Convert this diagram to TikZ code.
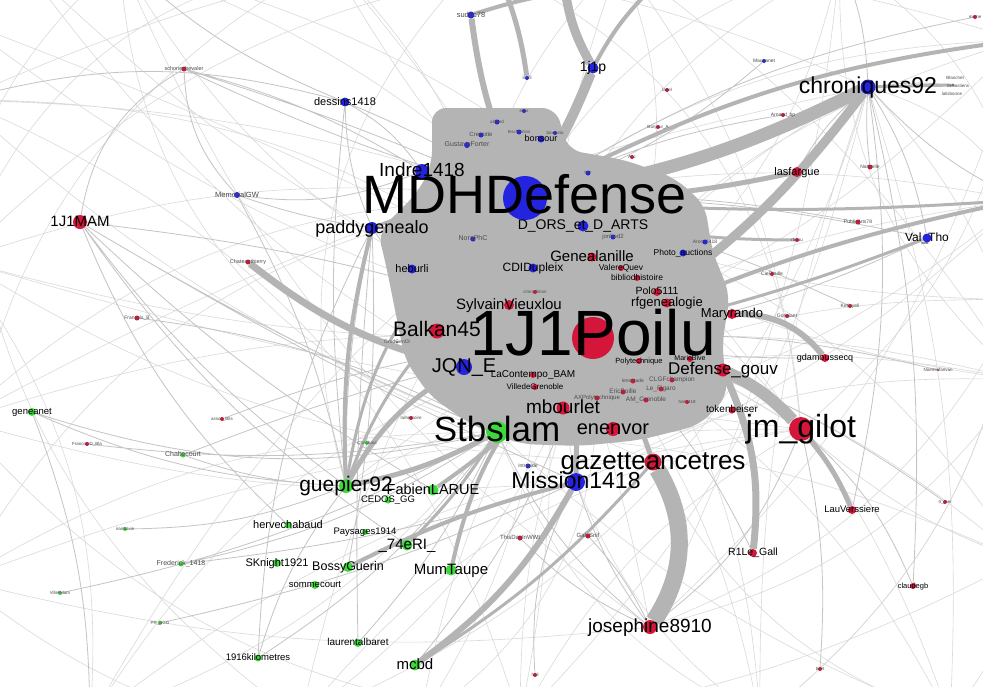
\documentclass[tikz,border=0pt]{standalone}
\usepackage{fontspec}
\setmainfont{Liberation Sans}
\definecolor{nodered}{HTML}{D4163A}
\definecolor{nodeblue}{HTML}{2424E0}
\definecolor{nodegreen}{HTML}{3CD83C}
\definecolor{bandgray}{HTML}{B4B4B4}
\definecolor{edgegray}{HTML}{C4C4C4}
\definecolor{faintgray}{HTML}{DADADA}
\pgfdeclarelayer{back}
\pgfdeclarelayer{mid}
\pgfsetlayers{back,mid,main}
\tikzset{
  reddot/.style={circle,fill=nodered,inner sep=0pt,minimum size=#1},
  bluedot/.style={circle,fill=nodeblue,inner sep=0pt,minimum size=#1},
  greendot/.style={circle,fill=nodegreen,inner sep=0pt,minimum size=#1},
  greydot/.style={circle,fill=gray,inner sep=0pt,minimum size=#1},
  lbl/.style={inner sep=0pt,anchor=base,yshift={-0.28*#1},text=black,font=\fontsize{#1}{#1}\selectfont},
  tiny/.style={inner sep=0pt,anchor=base,yshift={-0.28*#1},text=black!70,font=\fontsize{#1}{#1}\selectfont},
  band/.style={draw=bandgray,line width=#1},
  link/.style={draw=edgegray,line width=0.8pt},
  faint/.style={draw=faintgray,line width=0.6pt},
}
\begin{document}
\begin{tikzpicture}[x=1pt,y=-1pt]
\useasboundingbox (0,0) rectangle (983,686);

% MDHDefense
\node[bluedot=44] (mdh) at (525,198) {};
\node[lbl=54] (mdh-t) at (mdh) {MDHDefense};
% 1J1Poilu
\node[reddot=42] (poilu) at (593,338) {};
\node[lbl=64] (poilu-t) at (poilu) {1J1Poilu};
% chroniques92
\node[bluedot=15] (chron) at (868,87) {};
\node[lbl=23] (chron-t) at (chron) {chroniques92};
% Stbslam
\node[greendot=22] (stb) at (497,432) {};
\node[lbl=35] (stb-t) at (stb) {Stbslam};
% jm_gilot
\node[reddot=24] (gilot) at (801,429) {};
\node[lbl=32] (gilot-t) at (gilot) {jm\_gilot};
% gazetteancetres
\node[reddot=17] (gazette) at (653,462) {};
\node[lbl=26] (gazette-t) at (gazette) {gazetteancetres};
% Mission1418
\node[bluedot=18] (mission) at (576,482) {};
\node[lbl=23] (mission-t) at (mission) {Mission1418};
% guepier92
\node[greendot=14] (guepier) at (346,486) {};
\node[lbl=21] (guepier-t) at (guepier) {guepier92};
% josephine8910
\node[reddot=14] (josephine) at (650,627) {};
\node[lbl=19] (josephine-t) at (josephine) {josephine8910};

% ring around the hubs
\node[reddot=15] (balkan) at (437,331) {};
\node[lbl=21] (balkan-t) at (balkan) {Balkan45};
\node[bluedot=16] (jqn) at (464,367) {};
\node[lbl=20] (jqn-t) at (jqn) {JQN\_E};
\node[bluedot=12] (paddy) at (372,228) {};
\node[lbl=18] (paddy-t) at (paddy) {paddygenealo};
\node[bluedot=14] (indre) at (422,171) {};
\node[lbl=19] (indre-t) at (indre) {Indre1418};
\node[reddot=14] (mam) at (80,222) {};
\node[lbl=15] (mam-t) at (mam) {1J1MAM};
\node[bluedot=9] (dessins) at (345,102) {};
\node[lbl=11] (dessins-t) at (dessins) {dessins1418};
\node[bluedot=11] (onejp) at (593,68) {};
\node[lbl=14] (onejp-t) at (onejp) {1j1p};
\node[reddot=13] (mbourlet) at (563,408) {};
\node[lbl=19] (mbourlet-t) at (mbourlet) {mbourlet};
\node[reddot=14] (enenvor) at (613,429) {};
\node[lbl=20] (enenvor-t) at (enenvor) {enenvor};
\node[reddot=13] (defgouv) at (723,370) {};
\node[lbl=17] (defgouv-t) at (defgouv) {Defense\_gouv};
\node[reddot=10] (maryrando) at (732,314) {};
\node[lbl=13] (maryrando-t) at (maryrando) {Maryrando};
\node[reddot=9] (rfgen) at (667,303) {};
\node[lbl=13] (rfgen-t) at (rfgen) {rfgenealogie};
\node[reddot=9] (genealanille) at (592,257) {};
\node[lbl=15] (genealanille-t) at (genealanille) {Genealanille};
\node[reddot=10] (sylvain) at (509,305) {};
\node[lbl=15] (sylvain-t) at (sylvain) {SylvainVieuxlou};
\node[bluedot=11] (dorsarts) at (583,226) {};
\node[lbl=14] (dorsarts-t) at (dorsarts) {D\_ORS\_et\_D\_ARTS};
\node[bluedot=9] (cdid) at (533,268) {};
\node[lbl=12] (cdid-t) at (cdid) {CDIDupleix};
\node[bluedot=9] (heburli) at (412,269) {};
\node[lbl=11] (heburli-t) at (heburli) {heburli};
\node[bluedot=9] (valtho) at (927,238) {};
\node[lbl=12] (valtho-t) at (valtho) {Val\_Tho};
\node[reddot=10] (lasfargue) at (797,172) {};
\node[lbl=11] (lasfargue-t) at (lasfargue) {lasfargue};
\node[reddot=8] (polo) at (657,292) {};
\node[lbl=10.5] (polo-t) at (polo) {Polo5111};
\node[reddot=7] (tokenb) at (732,410) {};
\node[lbl=10] (tokenb-t) at (tokenb) {tokenbeiser};
\node[reddot=8] (gdam) at (825,358) {};
\node[lbl=9] (gdam-t) at (gdam) {gdamoussecq};
\node[reddot=8] (r1legall) at (753,553) {};
\node[lbl=10.5] (r1legall-t) at (r1legall) {R1Le\_Gall};
\node[reddot=8] (lauv) at (852,510) {};
\node[lbl=9.5] (lauv-t) at (lauv) {LauVerssiere};
\node[reddot=6] (claude) at (913,586) {};
\node[lbl=7.5] (claude-t) at (claude) {claudegb};

% green group, lower left
\node[greendot=11] (fabien) at (433,490) {};
\node[lbl=14.5] (fabien-t) at (fabien) {FabienLARUE};
\node[greendot=7] (cedos) at (388,500) {};
\node[lbl=9.5] (cedos-t) at (cedos) {CEDOS\_GG};
\node[greendot=7] (herve) at (288,525) {};
\node[lbl=11] (herve-t) at (herve) {hervechabaud};
\node[greendot=6] (paysages) at (365,532) {};
\node[lbl=9.5] (paysages-t) at (paysages) {Paysages1914};
\node[greendot=11] (e74) at (407,545) {};
\node[lbl=15] (e74-t) at (e74) {\_74eRI\_};
\node[greendot=8] (sknight) at (277,563) {};
\node[lbl=11] (sknight-t) at (sknight) {SKnight1921};
\node[greendot=10] (bossy) at (348,567) {};
\node[lbl=12.5] (bossy-t) at (bossy) {BossyGuerin};
\node[greendot=11] (mumtaupe) at (451,570) {};
\node[lbl=15] (mumtaupe-t) at (mumtaupe) {MumTaupe};
\node[greendot=8] (somme) at (315,585) {};
\node[lbl=9.5] (somme-t) at (somme) {sommecourt};
\node[greendot=8] (laurent) at (358,643) {};
\node[lbl=10] (laurent-t) at (laurent) {laurentalbaret};
\node[greendot=11] (mcbd) at (415,665) {};
\node[lbl=15] (mcbd-t) at (mcbd) {mcbd};
\node[greendot=7] (kilometres) at (258,658) {};
\node[lbl=9.5] (kilometres-t) at (kilometres) {1916kilometres};
\node[greendot=8] (geneanet) at (32,412) {};
\node[lbl=9.5] (geneanet-t) at (geneanet) {geneanet};
\node[greendot=5] (chaltecourt) at (183,455) {};
\node[tiny=7] (chaltecourt-t) at (chaltecourt) {Chaltecourt};
\node[greendot=5] (frederick) at (181,564) {};
\node[tiny=7] (frederick-t) at (frederick) {Frederick\_1418};
\node[greendot=4] (gA) at (125,529) {};
\node[tiny=4.5] (gA-t) at (gA) {nanbzvie};
\node[greendot=4] (gB) at (60,593) {};
\node[tiny=4.5] (gB-t) at (gB) {VilleRdam};
\node[greendot=4] (gC) at (160,623) {};
\node[tiny=4.5] (gC-t) at (gC) {PR\_BGG};
\node[greendot=4] (gD) at (367,443) {};
\node[tiny=4.5] (gD-t) at (gD) {Chrisboul};

% small ones, left and top
\node[bluedot=6] (memorial) at (237,195) {};
\node[tiny=7.5] (memorial-t) at (memorial) {MemorialGW};
\node[reddot=5] (schon) at (184,69) {};
\node[tiny=5.5] (schon-t) at (schon) {schonenbevaler};
\node[reddot=5] (chateau) at (248,262) {};
\node[tiny=5.5] (chateau-t) at (chateau) {Chateauthierry};
\node[reddot=5] (francois) at (137,318) {};
\node[tiny=5] (francois-t) at (francois) {Francois\_B};
\node[reddot=4] (rA) at (222,419) {};
\node[tiny=4.5] (rA-t) at (rA) {assoc\_Bits};
\node[reddot=4] (rB) at (87,444) {};
\node[tiny=4.5] (rB-t) at (rB) {FrancineD\_Bla};
\node[reddot=4] (rC) at (411,418) {};
\node[tiny=4.5] (rC-t) at (rC) {lamemoire};
\node[greydot=3] (grud) at (397,342) {};
\node[tiny=5] (grud-t) at (grud) {GrudGenOl};
\node[bluedot=7] (sudoc) at (471,15) {};
\node[tiny=7.5] (sudoc-t) at (sudoc) {sudoc78};
\node[bluedot=6] (gustave) at (467,145) {};
\node[tiny=7] (gustave-t) at (gustave) {GustaveForter};
\node[bluedot=5] (cre) at (481,135) {};
\node[tiny=6] (cre-t) at (cre) {Crenotte};
\node[bluedot=7] (bonsour) at (541,139) {};
\node[lbl=9] (bonsour-t) at (bonsour) {bonsour};
\node[bluedot=5] (ldbed) at (497,122) {};
\node[tiny=4.5] (ldbed-t) at (ldbed) {aldbed};
\node[bluedot=5] (lesch) at (519,132) {};
\node[tiny=4.5] (lesch-t) at (lesch) {leschemins};
\node[bluedot=4] (boxc) at (555,133) {};
\node[tiny=4.5] (boxc-t) at (boxc) {boxcurio};
\node[bluedot=4] (bA) at (527,78) {};
\node[tiny=4.5] (bA-t) at (bA) {lesfil};
\node[bluedot=4] (bB) at (524,111) {};
\node[tiny=4.5] (bB-t) at (bB) {edur};
\node[bluedot=5] (bC) at (588,173) {};
\node[tiny=3.5] (bC-t) at (bC) {lgen};
\node[reddot=4] (rD) at (667,90) {};
\node[tiny=4.5] (rD-t) at (rD) {lapel};
\node[reddot=4] (rE) at (658,127) {};
\node[tiny=4.5] (rE-t) at (rE) {Bonjour\_A};
\node[reddot=4] (rF) at (632,157) {};
\node[tiny=4.5] (rF-t) at (rF) {Anc};
\node[bluedot=5] (nora) at (473,239) {};
\node[tiny=7] (nora-t) at (nora) {NoraPhC};

% small ones inside the grey mass
\node[bluedot=5] (jonhed) at (613,237) {};
\node[tiny=6] (jonhed-t) at (jonhed) {jonhed2};
\node[bluedot=5] (aron) at (705,242) {};
\node[tiny=5] (aron-t) at (aron) {Aron\_1418};
\node[bluedot=7] (photo) at (683,253) {};
\node[lbl=8.5] (photo-t) at (photo) {Photo\_auctions};
\node[reddot=6] (valere) at (621,268) {};
\node[lbl=8.5] (valere-t) at (valere) {ValereQuev};
\node[reddot=6] (biblio) at (637,278) {};
\node[lbl=8.5] (biblio-t) at (biblio) {bibliodhistoire};
\node[reddot=4] (rG) at (535,292) {};
\node[tiny=4.5] (rG-t) at (rG) {cimrodimon};
\node[reddot=6] (lacontempo) at (533,375) {};
\node[lbl=10] (lacontempo-t) at (lacontempo) {LaContempo\_BAM};
\node[reddot=6] (villede) at (535,387) {};
\node[lbl=8] (villede-t) at (villede) {VilledeGrenoble};
\node[reddot=6] (polytech) at (639,361) {};
\node[lbl=7.5] (polytech-t) at (polytech) {Polytechnique};
\node[reddot=6] (marieb) at (690,359) {};
\node[lbl=7] (marieb-t) at (marieb) {MarieBive};
\node[reddot=5] (clgf) at (672,380) {};
\node[tiny=6.5] (clgf-t) at (clgf) {CLGFchampion};
\node[reddot=5] (lebig) at (661,389) {};
\node[tiny=6.5] (lebig-t) at (lebig) {Le\_Figaro};
\node[reddot=5] (rH) at (633,381) {};
\node[tiny=5] (rH-t) at (rH) {lenomade};
\node[reddot=5] (ericb) at (623,392) {};
\node[tiny=6.5] (ericb-t) at (ericb) {EricBoille};
\node[reddot=5] (axpoly) at (597,398) {};
\node[tiny=6] (axpoly-t) at (axpoly) {AXPolytechnique};
\node[reddot=5] (amgren) at (646,400) {};
\node[tiny=6.5] (amgren-t) at (amgren) {AM\_Grenoble};
\node[reddot=4] (rI) at (687,402) {};
\node[tiny=4.5] (rI-t) at (rI) {hist1418};

% small ones, lower middle and right
\node[bluedot=5] (bD) at (528,466) {};
\node[tiny=5] (bD-t) at (bD) {Intrepide};
\node[reddot=5] (thisday) at (520,538) {};
\node[tiny=6] (thisday-t) at (thisday) {ThisDayInWWI};
\node[reddot=5] (dalsnif) at (588,536) {};
\node[tiny=6] (dalsnif-t) at (dalsnif) {GalsSnif};
\node[reddot=4] (rJ) at (535,675) {};
\node[tiny=4.5] (rJ-t) at (rJ) {hall};
\node[reddot=4] (rK) at (787,316) {};
\node[tiny=5] (rK-t) at (rK) {Gorigiant};
\node[reddot=4] (rL) at (772,274) {};
\node[tiny=5] (rL-t) at (rL) {CieRoulle};
\node[reddot=4] (rM) at (850,306) {};
\node[tiny=5] (rM-t) at (rM) {Ketivyeli};
\node[reddot=4] (rN) at (797,240) {};
\node[tiny=4.5] (rN-t) at (rN) {rbeau};
\node[reddot=2] (rO) at (938,370) {};
\node[tiny=4.5] (rO-t) at (rO) {Noemiefarivan};
\node[reddot=4] (rP) at (783,115) {};
\node[tiny=5] (rP-t) at (rP) {Arnaud\_bp};
\node[reddot=5] (rQ) at (870,167) {};
\node[tiny=5] (rQ-t) at (rQ) {Nasbelle};
\node[reddot=5] (rR) at (858,222) {};
\node[tiny=5] (rR-t) at (rR) {PublicArts78};
\node[bluedot=4] (bE) at (764,61) {};
\node[tiny=5] (bE-t) at (bE) {Mauvanet};
\node[reddot=4] (rS) at (975,17) {};
\node[tiny=4.5] (rS-t) at (rS) {meme};
\node[reddot=4] (rT) at (945,502) {};
\node[tiny=4.5] (rT-t) at (rT) {tr\_mer};
\node[reddot=4] (rU) at (820,669) {};
\node[tiny=4.5] (rU-t) at (rU) {bcet};
\node[greydot=3] (clus) at (953,85) {};
\node[tiny=4.5] (clus-a) at (955,78) {Blanchet};
\node[tiny=4.5] (clus-b) at (958,86) {Sebastiens};
\node[tiny=4.5] (clus-c) at (952,94) {lalisbonne};

% ends of the long arcs, outside the frame
\coordinate (w1) at (-40,100);
\coordinate (w2) at (-40,260);
\coordinate (w3) at (-40,420);
\coordinate (w4) at (-40,580);
\coordinate (w5) at (-40,20);
\coordinate (n1) at (120,-40);
\coordinate (n2) at (330,-40);
\coordinate (n3) at (620,-40);
\coordinate (n4) at (840,-40);
\coordinate (n5) at (20,-40);
\coordinate (n6) at (480,-40);
\coordinate (e1) at (1020,40);
\coordinate (e2) at (1020,200);
\coordinate (e3) at (1020,380);
\coordinate (e4) at (1020,560);
\coordinate (e5) at (1020,300);
\coordinate (s1) at (90,720);
\coordinate (s2) at (300,720);
\coordinate (s3) at (520,720);
\coordinate (s4) at (760,720);
\coordinate (s5) at (950,720);
\coordinate (s6) at (420,720);
\coordinate (topA) at (565,-10);
\coordinate (topB) at (505,-10);
\coordinate (topC) at (650,-10);

\begin{pgfonlayer}{back}
\fill[white] (0,0) rectangle (983,686);
\clip (0,0) rectangle (983,686);
% faint arcs across the whole picture
\draw[faint] (w1) to[bend left=20] (poilu) (w1) to[bend right=10] (stb) (w1) to[bend left=8] (mdh) (w1) to[bend right=25] (s2)
  (w2) to[bend left=12] (mdh) (w2) to[bend right=8] (poilu) (w2) to[bend right=15] (gazette) (w2) to[bend left=30] (n2)
  (w3) to[bend left=10] (poilu) (w3) to[bend right=10] (mission) (w3) to[bend left=20] (mdh) (w3) to[bend right=20] (s3)
  (w4) to[bend left=15] (stb) (w4) to[bend left=25] (mdh) (w4) to[bend right=10] (josephine)
  (n1) to[bend right=20] (poilu) (n1) to[bend right=35] (stb) (n1) to[bend left=10] (mdh) (n1) to[bend right=30] (w3)
  (n2) to[bend right=15] (gilot) (n2) to[bend left=25] (stb) (n2) to[bend left=10] (chron)
  (n3) to[bend left=25] (poilu) (n3) to[bend right=30] (stb) (n3) to[bend left=15] (gilot) (n3) to[bend right=20] (w2)
  (n4) to[bend right=20] (mdh) (n4) to[bend left=20] (poilu) (n4) to[bend left=10] (josephine) (n4) to[bend right=15] (w1)
  (e1) to[bend right=15] (mdh) (e1) to[bend left=10] (poilu) (e1) to[bend left=20] (gilot) (e1) to[bend right=10] (n2)
  (e2) to[bend right=10] (mdh) (e2) to[bend left=15] (stb) (e2) to[bend right=20] (chron) (e2) to[bend left=25] (s4)
  (e3) to[bend right=8] (poilu) (e3) to[bend left=12] (mdh) (e3) to[bend right=15] (mission) (e3) to[bend left=20] (josephine)
  (e4) to[bend right=12] (poilu) (e4) to[bend left=10] (gilot) (e4) to[bend right=20] (mdh) (e4) to[bend left=15] (s2)
  (s1) to[bend left=20] (poilu) (s1) to[bend right=15] (stb) (s1) to[bend left=10] (mdh)
  (s2) to[bend right=15] (poilu) (s2) to[bend left=20] (gilot) (s2) to[bend right=25] (chron)
  (s3) to[bend right=10] (mdh) (s3) to[bend left=15] (gilot) (s3) to[bend right=25] (w1)
  (s4) to[bend right=12] (poilu) (s4) to[bend left=20] (stb) (s4) to[bend right=20] (mdh) (s4) to[bend left=10] (chron)
  (s5) to[bend right=15] (poilu) (s5) to[bend right=20] (mdh) (s5) to[bend left=20] (gazette) (s5) to[bend right=30] (e1);
\draw[faint] (w2) to[bend right=5] (gilot) (w3) to[bend left=8] (chron) (w4) to[bend left=10] (gilot) (w4) to[bend right=25] (s3)
  (n1) to[bend left=20] (gilot) (n1) to[bend right=15] (josephine) (n2) to[bend right=30] (w4) (n2) to[bend left=15] (josephine)
  (n3) to[bend left=10] (e3) (n3) to[bend right=15] (mission) (n4) to[bend right=25] (stb) (n4) to[bend left=20] (e2)
  (e1) to[bend right=20] (stb) (e1) to[bend left=15] (josephine) (e2) to[bend right=15] (guepier) (e2) to[bend left=10] (mission)
  (e3) to[bend right=20] (guepier) (e3) to[bend left=25] (n4) (e4) to[bend right=10] (stb) (e4) to[bend right=25] (chron)
  (s1) to[bend left=15] (gilot) (s1) to[bend right=20] (w2) (s2) to[bend left=10] (mdh) (s3) to[bend right=15] (chron)
  (s3) to[bend left=10] (poilu) (s4) to[bend left=15] (mission) (s4) to[bend right=25] (e2) (s5) to[bend left=10] (stb)
  (s5) to[bend right=10] (chron) (w5) to[bend right=10] (poilu) (w5) to[bend left=5] (gilot) (n5) to[bend right=15] (gazette)
  (n5) to[bend right=10] (poilu) (n6) to[bend left=30] (gilot) (n6) to[bend right=30] (guepier) (e5) to[bend right=15] (stb)
  (e5) to[bend left=10] (mdh) (e5) to[bend left=20] (josephine) (s6) to[bend right=20] (mdh) (s6) to[bend left=25] (chron)
  (s6) to[bend right=30] (poilu);
% links of the small nodes
\draw[link] (mam) to[bend right=8] (guepier) (mam) to[bend right=4] (stb) (mam) to[bend right=6] (fabien)
  (mam) to[bend right=10] (e74) (mam) to[bend right=12] (herve) (mam) to[bend right=3] (mission)
  (mam) to[bend left=25] (schon) (mam) to[bend left=6] (poilu) (francois) to[bend left=10] (stb)
  (schon) to[bend left=3] (mdh) (schon) to[bend left=8] (indre) (schon) to[bend right=4] (mdh) (schon) to[bend right=20] (memorial)
  (memorial) to[bend right=5] (paddy) (memorial) to[bend left=8] (guepier) (memorial) to[bend right=15] (indre)
  (dessins) to[bend left=5] (mdh) (dessins) to[bend left=12] (indre) (dessins) to[bend right=10] (paddy)
  (dessins) to[bend right=6] (guepier) (w1) to[bend left=15] (dessins) (n1) to[bend right=10] (dessins)
  (paddy) to[bend right=6] (guepier) (paddy) to[bend left=6] (bossy) (paddy) to[bend right=12] (kilometres)
  (paddy) to[bend left=4] (stb) (paddy) to[bend right=3] (laurent)
  (geneanet) to[bend right=10] (guepier) (geneanet) to[bend right=15] (stb) (geneanet) to[bend left=10] (s1)
  (chaltecourt) to[bend right=8] (guepier) (chaltecourt) to[bend left=5] (poilu) (rB) to[bend right=8] (stb)
  (rA) to[bend left=8] (poilu) (gA) to[bend right=10] (guepier) (gB) to[bend right=8] (stb) (gC) to[bend right=6] (mission)
  (frederick) to[bend right=10] (stb) (frederick) to[bend right=5] (mission) (kilometres) to[bend left=10] (guepier)
  (kilometres) to[bend right=10] (stb) (laurent) to[bend right=8] (stb) (mcbd) to[bend right=10] (poilu)
  (josephine) to[bend left=8] (mission) (josephine) to[bend left=12] (stb) (josephine) to[bend right=15] (gilot)
  (dalsnif) to[bend left=8] (josephine) (thisday) to[bend right=10] (josephine) (rJ) to[bend left=15] (mission)
  (r1legall) to[bend right=10] (poilu) (lauv) to[bend right=10] (chron) (claude) to[bend right=12] (gilot)
  (claude) to[bend right=8] (chron) (rT) to[bend right=10] (poilu) (rU) to[bend right=8] (gilot)
  (valtho) to[bend right=10] (chron) (valtho) to[bend left=8] (poilu) (valtho) to[bend right=6] (mdh)
  (gdam) to[bend left=5] (poilu) (rO) to[bend right=8] (poilu) (rM) to[bend right=6] (mdh) (rQ) to[bend left=5] (chron)
  (rR) to[bend right=6] (mdh) (rP) to[bend right=8] (mdh) (bE) to[bend left=10] (mdh) (rS) to[bend right=10] (mdh)
  (clus) to[bend right=6] (chron) (lasfargue) to[bend left=10] (chron) (n4) to[bend left=10] (chron) (e2) to[bend left=10] (chron);
\end{pgfonlayer}

\begin{pgfonlayer}{mid}
\clip (0,0) rectangle (983,686);
% grey mass of the core
\fill[bandgray,rounded corners=14] (432,108) -- (556,108) -- (568,150) -- (625,160) -- (675,178) -- (705,205) -- (712,250) -- (730,295) -- (722,345) -- (728,395) -- (700,425) -- (640,440) -- (580,446) -- (520,444) -- (470,424) -- (430,396) -- (405,360) -- (395,310) -- (386,265) -- (378,232) -- (418,192) -- (432,165) -- cycle;
% thick bands out of the core
\draw[band=6] (sudoc) to[bend right=8] (mdh);
\draw[band=4] (sudoc) to[bend left=10] (topC);
\draw[band=5] (topB) to[bend left=6] (bA);
\draw[band=10] (onejp) to[bend left=5] (mdh);
\draw[band=9] (topA) to[bend right=10] (onejp);
\draw[band=4] (onejp) to[bend left=8] (topC);
\draw[band=13] (chron) to[bend left=8] (mdh);
\draw[band=9] (chron) to[bend left=10] (poilu);
\draw[band=3] (chron) -- (clus);
\draw[band=5] (mdh) to[bend right=6] (lasfargue);
\draw[band=4] (mdh) to[bend left=10] (e1);
\draw[band=3] (mdh) to[bend right=4] (e2);
\draw[band=4] (poilu) to[bend left=6] (e2);
\draw[band=3] (poilu) to[bend right=4] (valtho);
\draw[band=3] (mdh) to[bend right=8] (rN);
\draw[band=12] (defgouv) to[bend left=10] (gilot);
\draw[band=6] (maryrando) to[bend left=25] (gdam);
\draw[band=7] (defgouv) to[bend left=15] (r1legall);
\draw[band=5] (gilot) to[bend left=8] (lauv);
\draw[band=17] (gazette) to[bend left=32] (josephine);
\draw[band=6] (mission) to[bend left=12] (mcbd);
\draw[band=4] (mission) to[bend right=6] (bossy);
\draw[band=5] (jqn) to[bend right=15] (guepier);
\draw[band=3] (balkan) to[bend right=10] (guepier);
\draw[band=3] (mdh) to[bend right=22] (guepier);
\draw[band=5] (stb) to[bend left=8] (guepier);
\draw[band=4] (paddy) to[bend right=8] (guepier);
\draw[band=4] (poilu) to[bend left=8] (fabien);
\draw[band=4] (poilu) to[bend right=18] (mumtaupe);
\draw[band=3] (gazette) to[bend left=8] (mcbd);
\draw[band=3] (stb) to[bend left=6] (e74);
\draw[band=7] (chateau) to[bend right=12] (jqn);
\draw[band=3] (mdh) to[bend right=10] (paddy);
\draw[band=3] (mdh) to[bend right=6] (indre);
\draw[band=5] (poilu) to[bend left=6] (gazette);
\draw[band=5] (poilu) to[bend right=6] (mission);
\end{pgfonlayer}
\end{tikzpicture}
\end{document}
